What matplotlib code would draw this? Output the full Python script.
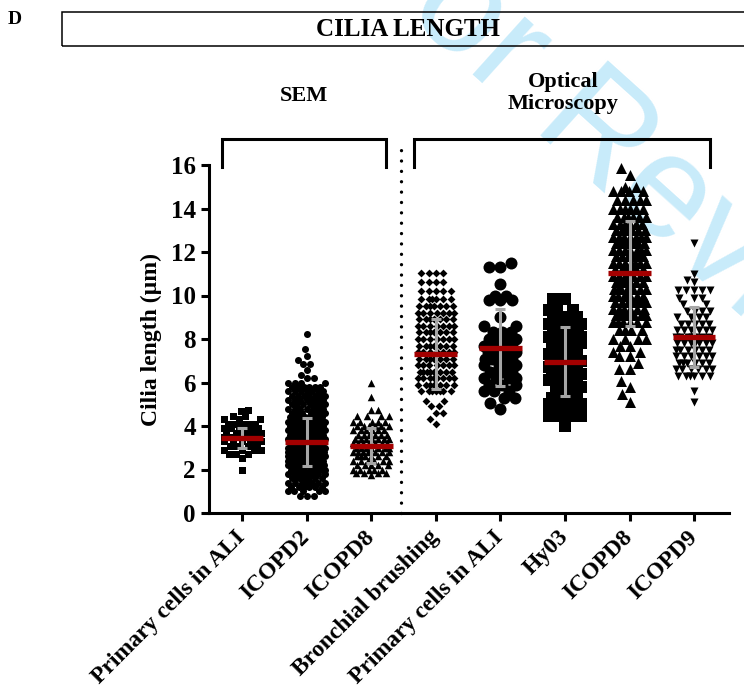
import numpy as np
import matplotlib
matplotlib.use("Agg")
import matplotlib.pyplot as plt
from matplotlib.patches import Rectangle

plt.rcParams['font.family'] = ['Liberation Serif', 'DejaVu Serif']
plt.rcParams['font.weight'] = 'bold'

categories = ["Primary cells in ALI", "ICOPD2", "ICOPD8", "Bronchial brushing",
              "Primary cells in ALI", "Hy03", "ICOPD8", "ICOPD9"]

# each group: measured lengths (um) and how many points sit at that length
sem_ali_vals = [4.75, 4.7, 4.45, 4.3, 4.1, 3.9, 3.7, 3.5, 3.3, 3.1, 2.9, 2.7, 2.55, 1.98]
sem_ali_n = [1, 1, 2, 3, 5, 6, 6, 7, 6, 5, 4, 3, 1, 1]

sem_icopd2_vals = [8.23, 7.52, 7.22, 7.03, 6.83, 6.57, 6.35, 6.2, 6.0, 5.8, 5.6, 5.4, 5.2, 5.0,
                   4.8, 4.6, 4.4, 4.2, 4.0, 3.8, 3.6, 3.4, 3.2, 3.0, 2.8, 2.6, 2.4, 2.2, 2.0,
                   1.8, 1.6, 1.4, 1.2, 1.0, 0.8]
sem_icopd2_n = [1, 1, 1, 1, 2, 1, 1, 2, 4, 6, 7, 7, 7, 7,
                7, 7, 8, 9, 10, 11, 12, 12, 13, 13, 13, 12, 11, 10, 9,
                8, 7, 7, 6, 5, 3]

sem_icopd8_vals = [6.0, 5.35, 4.75, 4.45, 4.2, 4.0, 3.8, 3.6, 3.4, 3.2, 3.0, 2.8, 2.6, 2.4,
                   2.2, 2.0, 1.85, 1.75]
sem_icopd8_n = [1, 1, 2, 4, 5, 6, 6, 6, 7, 7, 7, 7, 6, 6, 5, 5, 4, 1]

opt_brush_vals = [11.05, 10.6, 10.2, 9.85, 9.5, 9.2, 8.9, 8.6, 8.3, 8.0, 7.7, 7.4, 7.1, 6.8,
                  6.5, 6.2, 5.9, 5.6, 5.15, 4.9, 4.6, 4.3, 4.1]
opt_brush_n = [4, 4, 5, 6, 7, 7, 7, 7, 7, 7, 7, 7, 7, 7, 8, 8, 7, 7, 2, 2, 2, 1, 1]

opt_ali_vals = [11.5, 11.3, 10.55, 10.0, 9.8, 9.0, 8.6, 8.3, 8.0, 7.7, 7.4, 7.1, 6.8, 6.5,
                6.2, 5.9, 5.6, 5.3, 5.05, 4.8]
opt_ali_n = [1, 2, 1, 2, 3, 1, 2, 3, 4, 4, 4, 4, 4, 4, 4, 3, 3, 2, 1, 1]

opt_hy03_vals = [9.85, 9.35, 9.0, 8.7, 8.4, 8.1, 7.8, 7.6, 7.3, 7.0, 6.7, 6.4, 6.1, 5.8,
                 5.3, 5.0, 4.7, 4.45, 4.0]
opt_hy03_n = [2, 3, 5, 5, 5, 5, 4, 2, 5, 6, 6, 6, 5, 4, 5, 6, 5, 4, 1]

opt_icopd8_vals = [15.85, 15.55, 15.0, 14.8, 14.4, 14.0, 13.6, 13.3, 13.0, 12.7, 12.4, 12.1,
                   11.8, 11.5, 11.2, 10.9, 10.6, 10.3, 10.0, 9.7, 9.4, 9.1, 8.8, 8.4, 8.0,
                   7.7, 7.4, 7.2, 6.9, 6.6, 6.05, 5.8, 5.45, 5.1]
opt_icopd8_n = [1, 1, 2, 4, 5, 6, 6, 6, 6, 7, 7, 7, 7, 7, 7, 7, 7, 7, 7, 7, 6, 6, 6, 4, 4,
                2, 2, 2, 1, 2, 1, 1, 1, 1]

opt_icopd9_vals = [12.4, 11.0, 10.7, 10.6, 10.25, 9.9, 9.6, 9.3, 9.0, 8.7, 8.4, 8.1, 7.8,
                   7.5, 7.2, 6.9, 6.6, 6.3, 5.6, 5.1]
opt_icopd9_n = [1, 1, 1, 1, 5, 3, 2, 4, 4, 5, 6, 7, 7, 6, 6, 6, 6, 6, 1, 1]

# mean and SD as drawn on the figure
means = [3.46, 3.25, 3.09, 7.30, 7.60, 6.96, 11.02, 8.11]
sds = [0.46, 1.11, 0.80, 1.60, 1.78, 1.57, 2.42, 1.38]

groups = [
    (sem_ali_vals, sem_ali_n, 's', 7),
    (sem_icopd2_vals, sem_icopd2_n, 'o', 7),
    (sem_icopd8_vals, sem_icopd8_n, '^', 7.5),
    (opt_brush_vals, opt_brush_n, 'D', 7.5),
    (opt_ali_vals, opt_ali_n, 'o', 12),
    (opt_hy03_vals, opt_hy03_n, 's', 12),
    (opt_icopd8_vals, opt_icopd8_n, '^', 11),
    (opt_icopd9_vals, opt_icopd9_n, 'v', 8),
]

W, H = 744, 695
fig = plt.figure(figsize=(W / 100, H / 100), dpi=100)
ax = fig.add_axes([209 / W, 1 - 513 / H, (729 - 209) / W, (513 - 165) / H])
ax.set_facecolor('none')
ax.set_xlim(-0.511, 7.539)
ax.set_ylim(0, 16)

px_x = (729 - 209) / (7.539 + 0.511)
px_y = (513 - 165) / 16.0


def swarm(vals, diam, half):
    ys = np.asarray(vals) * px_y
    cands = np.arange(-half, half + 0.01, 0.5)
    cands = cands[np.argsort(np.abs(cands), kind='stable')]
    offs = np.zeros(len(ys))
    placed = []
    for i in np.argsort(ys, kind='stable'):
        y = ys[i]
        near = [p for p in placed if abs(p[1] - y) < diam]
        if not near:
            off = 0.0
        else:
            P = np.array(near)
            d = np.sqrt((cands[:, None] - P[None, :, 0]) ** 2 + (y - P[None, :, 1]) ** 2).min(axis=1)
            ok = np.where(d >= diam)[0]
            off = cands[ok[0]] if len(ok) else cands[np.argmax(d)]
        placed.append((off, y))
        offs[i] = off
    return offs / px_x


for k, (vals, counts, mk, size) in enumerate(groups):
    y = np.repeat(vals, counts)
    dx = swarm(y, size * 0.95, 22 - size / 2)
    ax.scatter(k + dx, y, marker=mk, s=(size * 0.72) ** 2 * (0.55 if mk == 'D' else 1),
               color='black', linewidths=0, zorder=3, clip_on=False)

xs = np.arange(len(categories))
ax.errorbar(xs, means, yerr=sds, fmt='none', ecolor='#A6A6A6', elinewidth=2.2,
            capsize=3.6, capthick=2.2, zorder=4)
ax.hlines(means, xs - 0.33, xs + 0.33, color='#A30000', lw=3.8, zorder=5)

for s in ['top', 'right']:
    ax.spines[s].set_visible(False)
for s in ['left', 'bottom']:
    ax.spines[s].set_linewidth(2.2)
ax.set_yticks(np.arange(0, 17, 2))
ax.tick_params(axis='both', length=6, width=2.2, labelsize=18)
ax.tick_params(axis='x', labelsize=17, pad=9)
ax.set_xticks(xs)
ax.set_xticklabels(categories, rotation=45, ha='right', va='center',
                   rotation_mode='anchor', fontweight='bold')
ax.set_ylabel('Cilia length (\u00b5m)', fontsize=17, fontweight='bold', labelpad=6)

# brackets and separator
ax.plot([-0.31, -0.31, 2.23, 2.23], [15.9, 17.2, 17.2, 15.9], color='black', lw=2.2,
        clip_on=False, solid_joinstyle='miter')
ax.plot([2.66, 2.66, 7.24, 7.24], [15.9, 17.2, 17.2, 15.9], color='black', lw=2.2,
        clip_on=False, solid_joinstyle='miter')
ax.plot([2.46, 2.46], [0, 17.15], color='black', lw=2.4, clip_on=False,
        linestyle=(0, (0.01, 3.1)), dash_capstyle='round')

fig.text(304 / W, 1 - 96 / H, 'SEM', ha='center', va='center', fontsize=16, fontweight='bold')
fig.text(563 / W, 1 - 93 / H, 'Optical\nMicroscopy', ha='center', va='center',
         fontsize=16, fontweight='bold', linespacing=1.2)

fig.patches.append(Rectangle((62 / W, 1 - 46 / H), 1.0, 34 / H, transform=fig.transFigure,
                             fill=False, lw=1.1, edgecolor='black'))
fig.text(408 / W, 1 - 29 / H, 'CILIA LENGTH', ha='center', va='center', fontsize=18,
         fontweight='bold')
fig.text(15 / W, 1 - 20 / H, 'D', ha='center', va='center', fontsize=14, fontweight='bold')

# review watermark
fig.text(338 / W, 1 + 46 / H, 'For Review Only', rotation=-42, rotation_mode='anchor',
         ha='left', va='baseline', fontsize=105, color='#C8EBFA',
         family='Liberation Sans', fontweight='normal', zorder=-1)

fig.savefig('out.png', dpi=100)
